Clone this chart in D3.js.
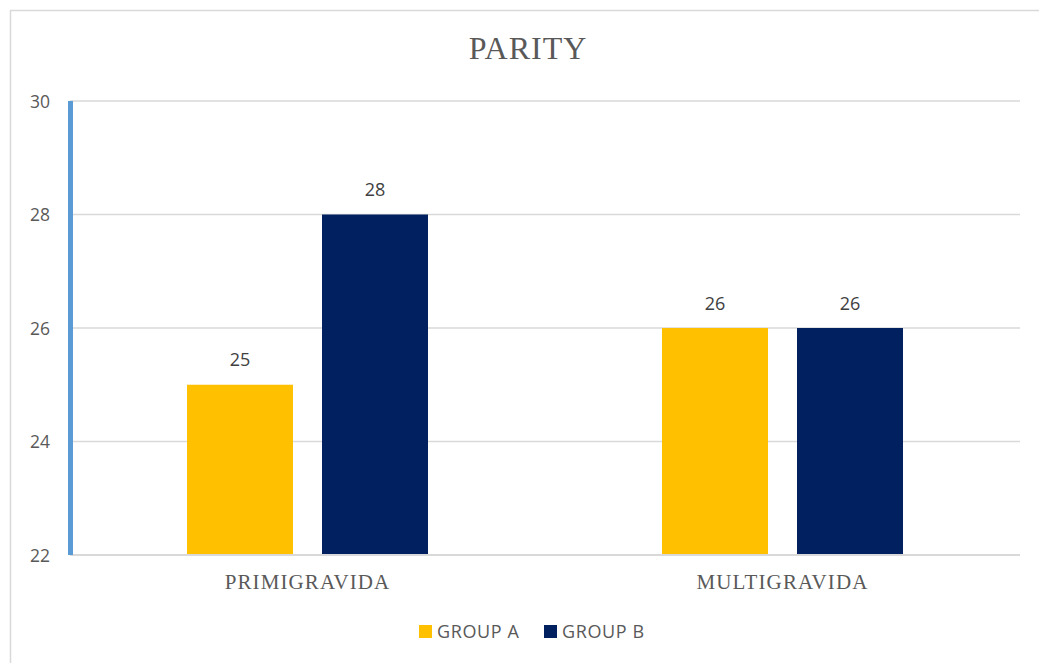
<!DOCTYPE html>
<html>
<head>
<meta charset="utf-8">
<script src="https://cdn.jsdelivr.net/npm/d3@7"></script>
<style>
  html, body { margin: 0; padding: 0; background: #fff; }
  svg { display: block; }
</style>
</head>
<body>
<svg id="chart" width="1039" height="663"></svg>
<script>
// Parity by study group
const categories = ["PRIMIGRAVIDA", "MULTIGRAVIDA"];
const groups = ["GROUP A", "GROUP B"];
const groupA = [25, 26];
const groupB = [28, 26];
const yTicks = [22, 24, 26, 28, 30];
const colors = ["#ffc000", "#002060"];

const seriesValues = [groupA, groupB];
const svg = d3.select("#chart");
const W = 1039, H = 663;
const plot = { left: 70, right: 1020, top: 101, bottom: 555 };

const sansFont = "'Open Sans', 'Liberation Sans', sans-serif";
const serifFont = "'Liberation Serif', 'Times New Roman', serif";
const textColor = "#595959";

// chart frame
svg.append("rect").attr("x", 10.5).attr("y", 10.5)
  .attr("width", W + 10).attr("height", H + 10)
  .attr("fill", "#fff").attr("stroke", "#d9d9d9").attr("stroke-width", 1.5);

// title
svg.append("text").attr("x", 528).attr("y", 59)
  .attr("text-anchor", "middle")
  .style("font-family", serifFont).style("font-size", "32px")
  .style("letter-spacing", "1px")
  .attr("fill", textColor).text("PARITY");

const y = d3.scaleLinear().domain([22, 30]).range([plot.bottom, plot.top]);
const x0 = d3.scaleBand().domain(categories).range([plot.left, plot.right]).padding(0);
const x1 = d3.scaleBand().domain(groups).range([0, x0.bandwidth()])
  .paddingInner(0.2148).paddingOuter(0.8667);

// gridlines
svg.append("g").selectAll("line").data(yTicks.filter(t => t !== 22)).join("line")
  .attr("x1", plot.left).attr("x2", plot.right)
  .attr("y1", d => y(d)).attr("y2", d => y(d))
  .attr("stroke", "#d9d9d9").attr("stroke-width", 1.5);

// y tick labels
const yAxis = d3.axisLeft(y).tickValues(yTicks).tickSize(0).tickPadding(0);
const gy = svg.append("g").attr("transform", `translate(50,0)`).call(yAxis);
gy.select(".domain").remove();
gy.selectAll("text").style("font-family", sansFont).style("font-size", "17.5px")
  .attr("fill", textColor).attr("dy", "0.35em");

// bars
const cat = svg.append("g").selectAll("g").data(categories).join("g")
  .attr("transform", d => `translate(${x0(d)},0)`);

cat.selectAll("rect")
  .data((d, i) => groups.map((g, j) => ({ g, v: seriesValues[j][i], j })))
  .join("rect")
  .attr("x", d => x1(d.g)).attr("width", x1.bandwidth())
  .attr("y", d => y(d.v)).attr("height", d => y(22) - y(d.v))
  .attr("fill", d => colors[d.j]);

// value labels
cat.selectAll("text.val")
  .data((d, i) => groups.map((g, j) => ({ g, v: seriesValues[j][i] })))
  .join("text").attr("class", "val")
  .attr("x", d => x1(d.g) + x1.bandwidth() / 2).attr("y", d => y(d.v) - 18.5)
  .attr("text-anchor", "middle")
  .style("font-family", sansFont).style("font-size", "18px")
  .attr("fill", "#404040").text(d => d.v);

// x axis baseline
svg.append("line").attr("x1", plot.left).attr("x2", plot.right)
  .attr("y1", y(22)).attr("y2", y(22))
  .attr("stroke", "#d9d9d9").attr("stroke-width", 2);

// x category labels
const xAxis = d3.axisBottom(x0).tickSize(0).tickPadding(0);
const gx = svg.append("g").attr("transform", `translate(0,${y(22) + 34})`).call(xAxis);
gx.select(".domain").remove();
gx.selectAll("text").attr("dy", 0).style("font-family", serifFont).style("font-size", "21px")
  .style("letter-spacing", "1.1px")
  .attr("fill", textColor);

// value axis line
svg.append("line").attr("x1", 70.5).attr("x2", 70.5)
  .attr("y1", plot.top).attr("y2", plot.bottom)
  .attr("stroke", "#5b9bd5").attr("stroke-width", 5);

// legend
const legend = svg.append("g").attr("transform", "translate(419,625)");
const legendX = [0, 125];
groups.forEach((g, i) => {
  const item = legend.append("g").attr("transform", `translate(${legendX[i]},0)`);
  item.append("rect").attr("width", 13).attr("height", 13).attr("fill", colors[i]);
  item.append("text").attr("x", 18).attr("y", 12.5)
    .style("font-family", sansFont).style("font-size", "18px")
    .style("letter-spacing", "0.6px")
    .attr("fill", textColor).text(g);
});
</script>
</body>
</html>
